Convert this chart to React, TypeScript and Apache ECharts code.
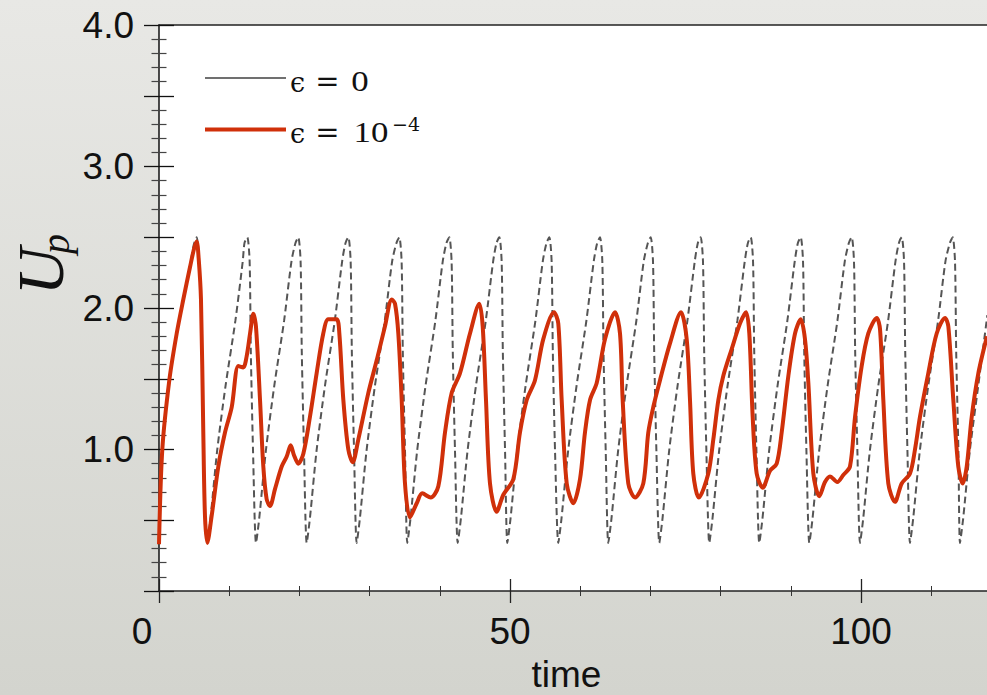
import React, { useEffect, useRef } from "react";
import * as echarts from "echarts";

// ---- data ----
const timeLabels = [0, 50, 100];
const upLabels = [1.0, 2.0, 3.0, 4.0];
const legendNames = ["ϵ = 0", "ϵ = 10⁻⁴"];

// epsilon = 0 (grey dashed), [time, Up]
const epsZero: [number, number][] = [
  [0, 0.34], [0.47, 1.0], [1.47, 1.49], [2.52, 1.82], [3.46, 2.06], [4.42, 2.3], [4.97, 2.45], [5.37, 2.5], [5.7, 2.33], [5.98, 2.06], [6.31, 1.12], [6.55, 0.53],
  [6.88, 0.34], [7.33, 0.51], [8.28, 0.99], [9.48, 1.45], [10.88, 1.91], [11.93, 2.33], [12.18, 2.46], [12.58, 2.5], [12.91, 2.33], [13.08, 1.69], [13.4, 0.98],
  [13.82, 0.34], [14.27, 0.51], [15.22, 0.99], [16.42, 1.45], [17.82, 1.91], [18.87, 2.33], [19.44, 2.46], [19.84, 2.5], [20.17, 2.33], [20.34, 1.69], [20.66, 0.98],
  [21.04, 0.34], [21.49, 0.51], [22.44, 0.99], [23.64, 1.45], [25.04, 1.91], [26.09, 2.33], [26.57, 2.46], [26.97, 2.5], [27.3, 2.33], [27.47, 1.69], [27.79, 0.98],
  [28.16, 0.34], [28.61, 0.51], [29.56, 0.99], [30.76, 1.45], [32.16, 1.91], [33.21, 2.33], [33.83, 2.46], [34.23, 2.5], [34.56, 2.33], [34.73, 1.69], [35.05, 0.98],
  [35.37, 0.34], [35.82, 0.51], [36.77, 0.99], [37.97, 1.45], [39.37, 1.91], [40.42, 2.33], [40.95, 2.46], [41.35, 2.5], [41.68, 2.33], [41.85, 1.69], [42.17, 0.98],
  [42.55, 0.34], [43.0, 0.51], [43.95, 0.99], [45.15, 1.45], [46.55, 1.91], [47.6, 2.33], [48.08, 2.46], [48.48, 2.5], [48.81, 2.33], [48.98, 1.69], [49.3, 0.98],
  [49.62, 0.34], [50.07, 0.51], [51.02, 0.99], [52.22, 1.45], [53.62, 1.91], [54.67, 2.33], [55.2, 2.46], [55.6, 2.5], [55.93, 2.33], [56.1, 1.69], [56.42, 0.98],
  [56.88, 0.34], [57.33, 0.51], [58.28, 0.99], [59.48, 1.45], [60.88, 1.91], [61.93, 2.33], [62.42, 2.46], [62.82, 2.5], [63.15, 2.33], [63.32, 1.69], [63.64, 0.98],
  [64.0, 0.34], [64.45, 0.51], [65.4, 0.99], [66.6, 1.45], [68.0, 1.91], [69.05, 2.33], [69.64, 2.46], [70.04, 2.5], [70.37, 2.33], [70.54, 1.69], [70.86, 0.98],
  [71.27, 0.34], [71.72, 0.51], [72.67, 0.99], [73.87, 1.45], [75.27, 1.91], [76.32, 2.33], [76.76, 2.46], [77.16, 2.5], [77.49, 2.33], [77.66, 1.69], [77.98, 0.98],
  [78.39, 0.34], [78.84, 0.51], [79.79, 0.99], [80.99, 1.45], [82.39, 1.91], [83.44, 2.33], [83.89, 2.46], [84.29, 2.5], [84.62, 2.33], [84.79, 1.69], [85.11, 0.98],
  [85.51, 0.34], [85.96, 0.51], [86.91, 0.99], [88.11, 1.45], [89.51, 1.91], [90.56, 2.33], [91.01, 2.46], [91.41, 2.5], [91.74, 2.33], [91.91, 1.69], [92.23, 0.98],
  [92.64, 0.34], [93.09, 0.51], [94.04, 0.99], [95.24, 1.45], [96.64, 1.91], [97.69, 2.33], [98.27, 2.46], [98.67, 2.5], [99.0, 2.33], [99.17, 1.69], [99.49, 0.98],
  [99.86, 0.34], [100.31, 0.51], [101.26, 0.99], [102.46, 1.45], [103.86, 1.91], [104.91, 2.33], [105.4, 2.46], [105.8, 2.5], [106.13, 2.33], [106.3, 1.69], [106.62, 0.98],
  [106.98, 0.34], [107.43, 0.51], [108.38, 0.99], [109.58, 1.45], [110.98, 1.91], [112.03, 2.33], [112.66, 2.46], [113.06, 2.5], [113.39, 2.33], [113.56, 1.69], [113.88, 0.98],
  [114.1, 0.34], [114.55, 0.51], [115.5, 0.99], [116.7, 1.45], [118.0, 1.95],
];

// epsilon = 1e-4 (red), [time, Up]
const epsSmall: [number, number][] = [
  [0, 0.33], [0.47, 1.0], [1.47, 1.49], [2.52, 1.82], [3.46, 2.06], [4.42, 2.29], [5.0, 2.42], [5.37, 2.47], [5.65, 2.35], [5.98, 2.06], [6.31, 1.12], [6.55, 0.53],
  [6.88, 0.34], [7.5, 0.53], [8.45, 0.88], [9.4, 1.12], [10.36, 1.3], [11.3, 1.59], [12.0, 1.58], [12.49, 1.66], [12.97, 1.82], [13.44, 1.96], [13.81, 1.87],
  [14.39, 1.35], [14.86, 0.88], [15.33, 0.65], [15.81, 0.6], [16.52, 0.72], [17.48, 0.88], [18.19, 0.95], [18.76, 1.03], [19.23, 0.96], [19.84, 0.9],
  [20.56, 0.97], [21.5, 1.23], [22.46, 1.54], [23.4, 1.82], [24.12, 1.92], [25.31, 1.92], [25.69, 1.82], [26.26, 1.35], [26.97, 1.0], [27.59, 0.91],
  [28.39, 1.07], [29.82, 1.4], [31.01, 1.63], [32.19, 1.87], [33.15, 2.06], [33.62, 2.03], [34.09, 1.82], [34.57, 1.35], [35.04, 0.76], [35.75, 0.52],
  [36.71, 0.62], [37.5, 0.69], [38.7, 0.66], [39.79, 0.74], [40.74, 1.12], [41.69, 1.4], [42.88, 1.54], [44.3, 1.82], [45.63, 2.03], [46.11, 1.87],
  [46.58, 1.35], [47.15, 0.76], [48.1, 0.56], [49.05, 0.68], [50.47, 0.79], [51.42, 1.12], [52.38, 1.35], [53.56, 1.49], [54.74, 1.78], [56.27, 1.97],
  [56.88, 1.89], [57.36, 1.35], [58.08, 0.76], [59.02, 0.62], [59.97, 0.79], [60.68, 1.12], [61.4, 1.35], [62.35, 1.47], [63.53, 1.78], [64.96, 1.97],
  [65.67, 1.82], [66.05, 1.35], [66.85, 0.76], [67.81, 0.66], [68.99, 0.76], [69.7, 1.12], [70.41, 1.3], [71.37, 1.49], [72.79, 1.75], [74.36, 1.97],
  [75.17, 1.78], [75.64, 1.35], [76.11, 0.83], [76.9, 0.66], [78.25, 0.83], [78.96, 1.07], [79.68, 1.35], [80.38, 1.52], [81.58, 1.71], [82.76, 1.89],
  [83.62, 1.97], [84.09, 1.82], [84.57, 1.23], [85.14, 0.83], [86.0, 0.73], [87.04, 0.85], [87.99, 0.9], [88.7, 1.12], [89.65, 1.52], [90.6, 1.82],
  [91.41, 1.92], [92.02, 1.78], [92.5, 1.47], [93.21, 0.83], [94.06, 0.67], [94.87, 0.77], [95.58, 0.81], [96.62, 0.77], [97.48, 0.82], [98.43, 0.88],
  [99.15, 1.23], [100.1, 1.59], [101.04, 1.82], [102.24, 1.93], [102.71, 1.85], [103.18, 1.35], [103.89, 0.76], [104.84, 0.63], [105.8, 0.76],
  [106.98, 0.83], [107.69, 1.0], [108.4, 1.23], [109.59, 1.54], [110.78, 1.82], [111.97, 1.93], [112.44, 1.87], [113.15, 1.35], [113.86, 0.88],
  [114.49, 0.76], [115.06, 0.88], [115.77, 1.23], [116.72, 1.54], [117.95, 1.8],
];

const RED = "#d0300a";
const GREY = "#555555";
const SANS = "'Liberation Sans', Arial, Helvetica, sans-serif";
const SERIF = "'Liberation Serif', 'DejaVu Serif', serif";
const MATH = "'DejaVu Serif', serif";

export default function App() {
  const ref = useRef<HTMLDivElement>(null);

  useEffect(() => {
    document.body.style.margin = "0";
    const chart = echarts.init(ref.current!, null, { renderer: "svg" });

    const xLabelFmt = (v: number) => {
      if (!timeLabels.includes(v)) return "";
      return v === 0 ? "{z|0}" : "{n|" + v + "}";
    };
    const yLabelFmt = (v: number) => {
      const hit = upLabels.find((u) => Math.abs(u - v) < 1e-9);
      return hit === undefined ? "" : hit.toFixed(1);
    };
    const labelRich = {
      z: { fontFamily: SANS, fontSize: 37, color: "#111", padding: [0, 34, 0, 0] },
      n: { fontFamily: SANS, fontSize: 37, color: "#111" },
    };

    const baseX = {
      type: "value",
      min: 0,
      max: 150,
      interval: 50,
      splitLine: { show: false },
      minorSplitLine: { show: false },
    };
    const baseY = {
      type: "value",
      min: 0,
      max: 4,
      interval: 0.5,
      position: "left",
      splitLine: { show: false },
      minorSplitLine: { show: false },
    };

    const txt = (x: number, y: number, text: string, fontFamily: string, fontSize: number, extra: any = {}) => ({
      type: "text",
      x,
      y,
      ...extra,
      style: { text, fontFamily, fontSize, fill: "#111", align: "center", verticalAlign: "middle", ...(extra.style || {}) },
    });

    const option: any = {
      animation: false,
      backgroundColor: {
        type: "linear", x: 0, y: 0, x2: 0, y2: 1,
        colorStops: [
          { offset: 0, color: "#e8e8e5" },
          { offset: 1, color: "#d3d4ce" },
        ],
      },
      grid: {
        left: 159, top: 25, width: 1053, height: 566,
        show: true, backgroundColor: "#ffffff", borderWidth: 0,
      },
      xAxis: [
        {
          ...baseX,
          position: "bottom",
          axisLine: { show: true, lineStyle: { color: "#222", width: 1.5 } },
          axisTick: { show: true, inside: false, length: 12, lineStyle: { color: "#222", width: 1.3 } },
          minorTick: { show: true, splitNumber: 5, length: 5, lineStyle: { color: "#333", width: 1 } },
          axisLabel: { show: true, margin: 22, formatter: xLabelFmt, rich: labelRich },
        },
        {
          ...baseX,
          position: "bottom",
          axisLine: { show: false },
          axisTick: { show: true, inside: true, length: 12, lineStyle: { color: "#222", width: 1.3 } },
          minorTick: { show: true, splitNumber: 5, length: 5, lineStyle: { color: "#333", width: 1 } },
          axisLabel: { show: false },
        },
        {
          ...baseX,
          position: "top",
          axisLine: { show: true, lineStyle: { color: "#222", width: 1.5 } },
          axisTick: { show: false },
          minorTick: { show: false },
          axisLabel: { show: false },
        },
      ],
      yAxis: [
        {
          ...baseY,
          axisLine: { show: true, lineStyle: { color: "#111", width: 1.5 } },
          axisTick: { show: true, inside: false, length: 15, lineStyle: { color: "#111", width: 1.3 } },
          minorTick: { show: true, splitNumber: 5, length: 7.5, lineStyle: { color: "#444", width: 1.2 } },
          axisLabel: {
            show: true, margin: 25, formatter: yLabelFmt,
            fontFamily: SANS, fontSize: 37, color: "#111",
          },
        },
        {
          ...baseY,
          axisLine: { show: false },
          axisTick: { show: true, inside: true, length: 15, lineStyle: { color: "#111", width: 1.3 } },
          minorTick: { show: true, splitNumber: 5, length: 7.5, lineStyle: { color: "#444", width: 1.2 } },
          axisLabel: { show: false },
        },
      ],
      series: [
        {
          name: legendNames[0],
          type: "line",
          xAxisIndex: 0,
          yAxisIndex: 0,
          data: epsZero,
          showSymbol: false,
          smooth: 0.25,
          lineStyle: { color: GREY, width: 2, type: [7, 4] },
          z: 2,
        },
        {
          name: legendNames[1],
          type: "line",
          xAxisIndex: 0,
          yAxisIndex: 0,
          data: epsSmall,
          showSymbol: false,
          smooth: 0.3,
          lineStyle: { color: RED, width: 4 },
          z: 3,
        },
      ],
      graphic: [
        // y-axis title  U_p
        txt(40, 271.5, "U", SERIF, 66, { rotation: Math.PI / 2, style: { fontStyle: "italic" } }),
        txt(55, 244, "p", SERIF, 40, { rotation: Math.PI / 2, style: { fontStyle: "italic" } }),
        // x-axis title
        txt(566.5, 674, "time", SANS, 37),
        // legend
        { type: "line", shape: { x1: 205, y1: 78, x2: 286, y2: 78 }, style: { stroke: "#707070", lineWidth: 2 } },
        { type: "line", shape: { x1: 205, y1: 129.5, x2: 286, y2: 129.5 }, style: { stroke: RED, lineWidth: 4 } },
        txt(297.5, 82, "ϵ", MATH, 27),
        txt(327.5, 81, "=", MATH, 29),
        txt(360, 81, "0", SERIF, 29, { scaleX: 1.2 }),
        txt(297.5, 133, "ϵ", MATH, 27),
        txt(327.5, 132, "=", MATH, 29),
        txt(371, 132, "10", SERIF, 29, { scaleX: 1.2 }),
        txt(406, 123.5, "−4", MATH, 19),
      ],
    };

    chart.setOption(option);
    return () => chart.dispose();
  }, []);

  return (
    <div style={{ position: "fixed", left: 0, top: 0, width: 987, height: 695, overflow: "hidden" }}>
      <div ref={ref} style={{ width: 1300, height: 695 }} />
    </div>
  );
}
